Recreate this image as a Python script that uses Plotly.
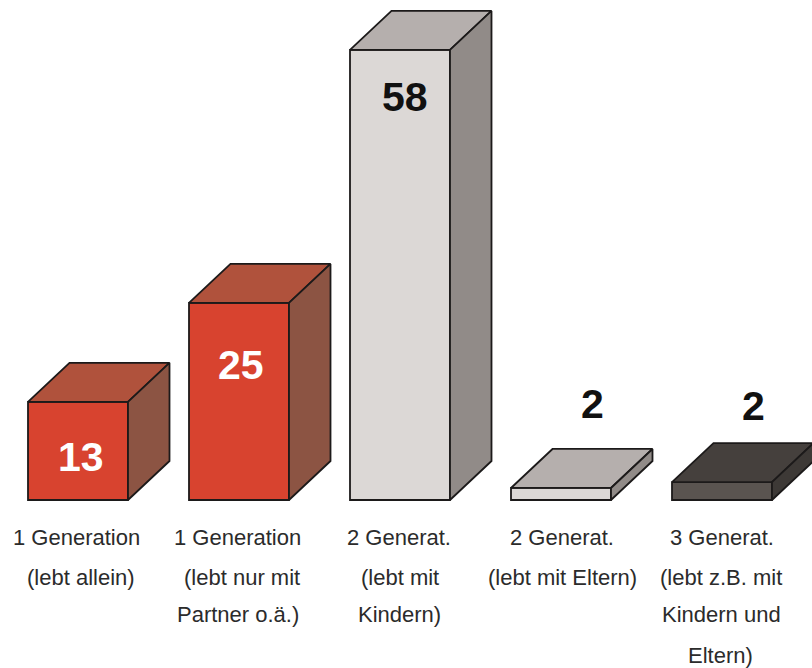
import plotly.graph_objects as go

# values printed on the bars
values = [13, 25, 58, 2, 2]
# drawn height of the front face (not quite to scale in the original)
heights = [12.65, 25.4, 58, 1.55, 2.3]

label_lines = [
    ["1 Generation", "(lebt allein)"],
    ["1 Generation", "(lebt nur mit", "Partner o.ä.)"],
    ["2 Generat.", "(lebt mit", "Kindern)"],
    ["2 Generat.", "(lebt mit Eltern)"],
    ["3 Generat.", "(lebt z.B. mit", "Kindern und", "Eltern)"],
]

front_colors = ["#d8432f", "#d8432f", "#dcd8d6", "#dcd8d6", "#5a5450"]
top_colors = ["#b0523c", "#b0523c", "#b5afad", "#b5afad", "#45403d"]
side_colors = ["#8c5443", "#8c5443", "#918b88", "#918b88", "#3d3936"]
value_colors = ["white", "white", "#111111", "#111111", "#111111"]

W, H = 812, 668
X_STEP = 161      # px between bars
X0 = 78           # px centre of the first bar
Y_UNIT = 7.76     # px per value unit
BASE = 500        # px of the baseline
BAR_W = 100 / X_STEP
DX = 41.5 / X_STEP
DY = 39 / Y_UNIT
EDGE = "#1c1a1a"
LINE_W = 1.8

fig = go.Figure()

xs = list(range(len(values)))
fig.add_trace(go.Bar(
    x=xs, y=heights, width=BAR_W,
    marker=dict(color=front_colors, line=dict(color=EDGE, width=LINE_W)),
    hoverinfo="skip",
))

# depth faces of each bar
for i, h in zip(xs, heights):
    left = i - BAR_W / 2
    right = i + BAR_W / 2
    fig.add_trace(go.Scatter(
        x=[left, right, right + DX, left + DX, left],
        y=[h, h, h + DY, h + DY, h],
        mode="lines", fill="toself", fillcolor=top_colors[i],
        line=dict(color=EDGE, width=LINE_W), hoverinfo="skip",
    ))
    fig.add_trace(go.Scatter(
        x=[right, right + DX, right + DX, right, right],
        y=[0, DY, h + DY, h, 0],
        mode="lines", fill="toself", fillcolor=side_colors[i],
        line=dict(color=EDGE, width=LINE_W), hoverinfo="skip",
    ))

# value label offsets from the top-centre of each front face, px
value_dx = [3, 2, 5, 31, 31]
value_dy = [-55, -62, -47, 84, 76]
for i, v in enumerate(values):
    fig.add_annotation(
        x=i, y=heights[i], text="<b>%d</b>" % v, showarrow=False,
        xshift=value_dx[i], yshift=value_dy[i],
        font=dict(family="Liberation Sans", size=41, color=value_colors[i]),
    )

# small sideways nudges of the label lines, px
line_dx = [[-2, 3], [-2, 3, -1], [-1, 0, -1], [1, 1], [0, -1, -1, -2]]
line_dy = [37, 77, 114, 155]
for i, lines in enumerate(label_lines):
    for j, line in enumerate(lines):
        fig.add_annotation(
            x=i, y=0, text=line, showarrow=False,
            xshift=line_dx[i][j], yshift=-line_dy[j],
            font=dict(family="Liberation Sans", size=22, color="#2b2b2b"),
        )

fig.update_layout(
    width=W, height=H, autosize=False, showlegend=False,
    margin=dict(l=0, r=0, t=0, b=0),
    paper_bgcolor="white", plot_bgcolor="white",
    xaxis=dict(visible=False, range=[-X0 / X_STEP, (W - X0) / X_STEP]),
    yaxis=dict(visible=False, range=[-(H - BASE) / Y_UNIT, BASE / Y_UNIT]),
)

fig.write_html("out.html", config=dict(displayModeBar=False),
               post_script="document.body.style.margin='0';")
